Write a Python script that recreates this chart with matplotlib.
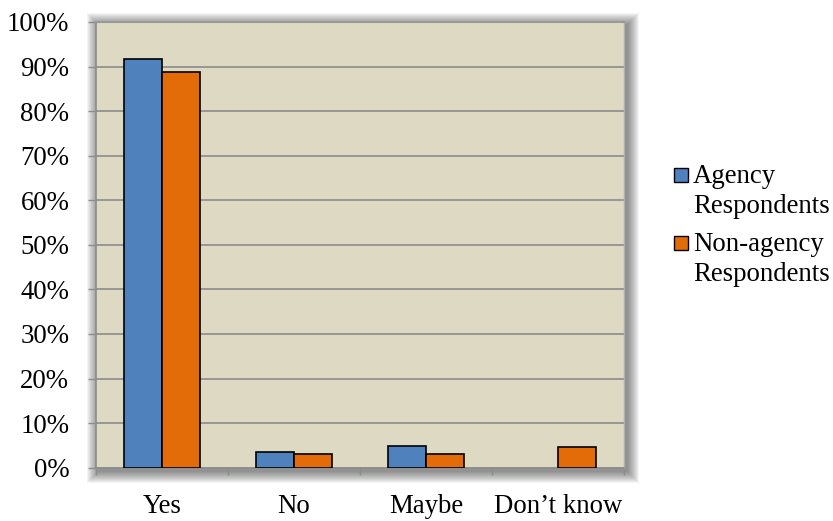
import numpy as np
import matplotlib.pyplot as plt
from matplotlib.patches import Rectangle
from matplotlib.ticker import FixedLocator, PercentFormatter

# survey answers, share of respondents (%)
categories = ["Yes", "No", "Maybe", "Don\u2019t know"]
agency = [91.7, 3.6, 4.8, 0.0]
non_agency = [88.8, 3.1, 3.1, 4.7]
series_names = ["Agency\nRespondents", "Non-agency\nRespondents"]
y_ticks = np.arange(0, 101, 10)

BLUE = "#4F81BD"
ORANGE = "#E36C09"
PLOT_BG = "#DDD9C3"
GRID = "#8C8C8C"

plt.rcParams["font.family"] = ["Liberation Serif", "DejaVu Serif"]
FS = 19.3

fig = plt.figure(figsize=(8.33, 5.21), dpi=100)
ax_rect = [0.1149, 0.1023, 0.749 - 0.1149, 0.9578 - 0.1023]

# soft drop shadow round the plot area
for i in range(12):
    grow = (12 - i) * 1.0
    dx = grow / 833
    dy = grow / 521
    fig.add_artist(Rectangle((ax_rect[0] - dx + 3 / 833, ax_rect[1] - dy - 3 / 521),
                             ax_rect[2] + 2 * dx, ax_rect[3] + 2 * dy,
                             transform=fig.transFigure, facecolor="black",
                             edgecolor="none", alpha=0.045, zorder=0))

ax = fig.add_axes(ax_rect, zorder=1)
ax.set_facecolor(PLOT_BG)

x = np.arange(len(categories))
w = 0.288
for offset, vals, color in ((-w / 2, agency, BLUE), (w / 2, non_agency, ORANGE)):
    widths = [1.2 if v > 0 else 0 for v in vals]
    ax.bar(x + offset, vals, w, color=color, edgecolor="black", linewidth=widths, zorder=3)

ax.set_xlim(-0.5, len(categories) - 0.5)
ax.set_ylim(0, 100)
ax.set_yticks(y_ticks)
ax.yaxis.set_major_formatter(PercentFormatter(decimals=0))
ax.yaxis.grid(True, color=GRID, linewidth=1.2, zorder=1)
ax.set_axisbelow(True)

# ticks between groups, labels centred under each group
ax.xaxis.set_major_locator(FixedLocator(np.arange(-0.5, len(categories), 1)))
ax.xaxis.set_minor_locator(FixedLocator(x))
ax.set_xticklabels([""] * (len(categories) + 1))
ax.set_xticklabels(categories, minor=True)
ax.tick_params(axis="x", which="major", length=5, width=1, color=GRID, direction="out")
ax.tick_params(axis="x", which="minor", length=0, pad=19, labelsize=FS)
ax.tick_params(axis="y", length=6, width=1, color=GRID, pad=13, labelsize=FS)

for side in ("left", "bottom"):
    ax.spines[side].set_color(GRID)
    ax.spines[side].set_linewidth(1.2)
ax.spines["top"].set_color("#9A9A9A")
ax.spines["top"].set_linewidth(1.5)
ax.spines["right"].set_color("#B0B0B0")
ax.spines["right"].set_linewidth(1.0)

# legend drawn as swatches plus two-line labels
sw = 14
swatch_tops = [168, 236]
for color, name, top in zip([BLUE, ORANGE], series_names, swatch_tops):
    fig.add_artist(Rectangle((674 / 833, 1 - (top + sw) / 521), sw / 833, sw / 521,
                             transform=fig.transFigure, facecolor=color,
                             edgecolor="black", linewidth=1.0))
    fig.text(693 / 833, 1 - (top - 4) / 521, name, fontsize=FS, va="top",
             ha="left", linespacing=1.28)

fig.savefig("out.png", dpi=100)
